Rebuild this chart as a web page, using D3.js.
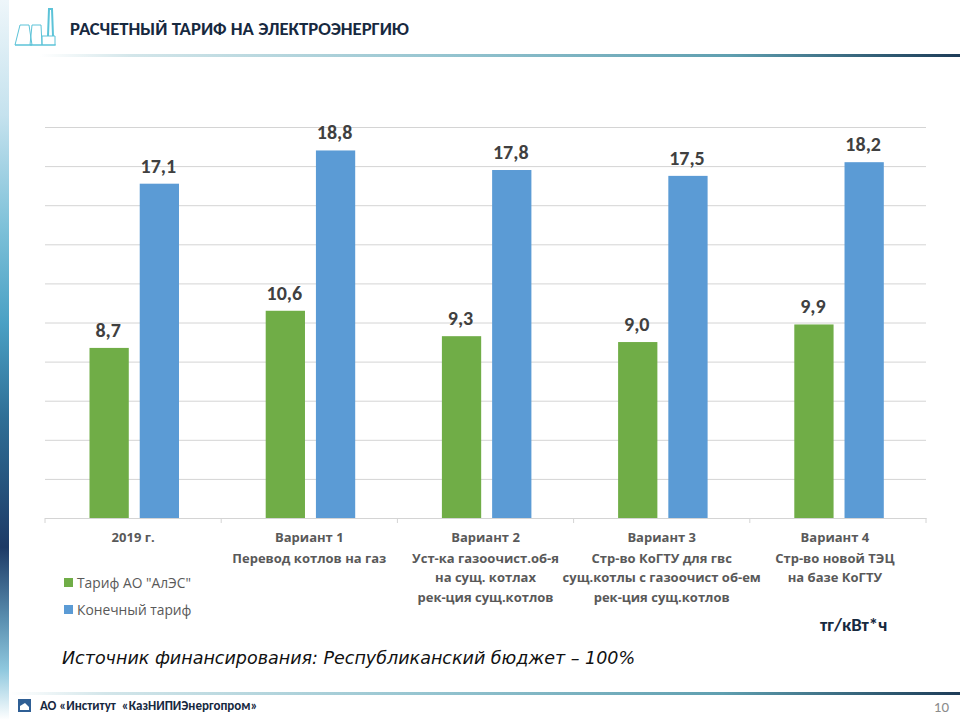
<!DOCTYPE html>
<html><head><meta charset="utf-8"><style>html,body{margin:0;padding:0;background:#fff}svg{display:block}</style>
<script src="https://cdnjs.cloudflare.com/ajax/libs/d3/7.8.5/d3.min.js"></script></head><body>
<svg id="c" width="960" height="720"></svg>
<script>
const categories=["2019 г.","Вариант 1","Вариант 2","Вариант 3","Вариант 4"];
const categoryNotes=[[],["Перевод котлов на газ"],["Уст-ка газоочист.об-я","на сущ. котлах","рек-ция сущ.котлов"],["Стр-во КоГТУ для гвс","сущ.котлы с газоочист об-ем","рек-ция сущ.котлов"],["Стр-во новой ТЭЦ","на базе КоГТУ"]];
const seriesNames=['Тариф АО "АлЭС"',"Конечный тариф"];
const tariff=[8.7,10.6,9.3,9.0,9.9];
const finalTariff=[17.1,18.8,17.8,17.5,18.2];
const valueTicks=[0,2,4,6,8,10,12,14,16,18,20];
const colors=["#70ad47","#5b9bd5"];
const fmt=v=>v.toFixed(1).replace(".",",");
const font="Carlito, 'Open Sans', 'Noto Sans', sans-serif";
const labelFont="'Open Sans','Noto Sans',sans-serif";
const svg=d3.select("#c");
const defs=svg.append("defs");
function grad(id,stops,vertical){const g=defs.append("linearGradient").attr("id",id).attr("x1",0).attr("y1",0).attr("x2",vertical?0:1).attr("y2",vertical?1:0);
 stops.forEach(s=>g.append("stop").attr("offset",s[0]).attr("stop-color",s[1]));}
grad("side",[[0,"#eef6fa"],[0.16,"#c5e2ee"],[0.32,"#7cc0d8"],[0.45,"#4aa0c4"],[0.58,"#2f6f96"],[0.76,"#1d3a66"],[0.86,"#5a8fb0"],[0.93,"#8fc8de"],[1,"#ffffff"]],true);
grad("rule",[[0,"#ffffff"],[0.1,"#d3e6ea"],[0.45,"#93c3cf"],[0.75,"#5f9fb0"],[0.92,"#2f5a72"],[1,"#1e3c58"]],false);
svg.append("rect").attr("x",0).attr("y",0).attr("width",9).attr("height",720).attr("fill","url(#side)");
svg.append("rect").attr("x",40).attr("y",54).attr("width",920).attr("height",3).attr("fill","url(#rule)");
svg.append("rect").attr("x",10).attr("y",692).attr("width",950).attr("height",3).attr("fill","url(#rule)");
// icon
const ic=svg.append("g").attr("fill","none").attr("stroke","#5cc3d8").attr("stroke-width",1);
ic.append("path").attr("d","M15 45 L20 25 H29 L32 45 Z M30 45 L32 25 H41 L42 45 Z M42 45 V36 H55 V45 Z M15 45 H56");
ic.append("path").attr("d","M48 36 L49 9 H52 L53 36").attr("stroke-width",2);
// plot
const x=d3.scaleBand().domain(categories).range([45,926]);
const y=d3.scaleLinear().domain([0,20]).range([518,127]);
const x1=d3.scaleBand().domain(seriesNames).range([44.5,134]).paddingInner(0.218);
const g=svg.append("g");
g.append("g").attr("transform","translate(45,0)").call(d3.axisLeft(y).tickValues(valueTicks).tickSize(-881).tickFormat(""))
 .call(a=>a.select(".domain").remove()).call(a=>a.selectAll("line").attr("stroke","#d4d4d4"));
const ax=g.append("g").attr("transform","translate(0,518)").call(d3.axisBottom(x).tickFormat("").tickSize(0));
ax.select(".domain").attr("stroke","#d4d4d4");
ax.selectAll(".tick").remove();
const edges=categories.map(c=>x(c)).concat(x.range()[1]);
g.selectAll(".et").data(edges).join("line").attr("x1",d=>d).attr("x2",d=>d).attr("y1",518).attr("y2",523).attr("stroke","#d4d4d4");
[tariff,finalTariff].forEach((vals,i)=>{
 const s=g.append("g");
 s.selectAll("rect").data(vals).join("rect").attr("x",(d,j)=>x(categories[j])+x1(seriesNames[i])).attr("width",x1.bandwidth()).attr("y",d=>y(d)).attr("height",d=>y(0)-y(d)).attr("fill",colors[i]);
 s.selectAll("text").data(vals).join("text").attr("x",(d,j)=>x(categories[j])+x1(seriesNames[i])+x1.bandwidth()/2-1).attr("y",d=>y(d)-11).attr("text-anchor","middle").attr("font-family",font).attr("font-weight",700).attr("font-size",20).attr("fill","#404040").text(fmt);
});
// category labels
categories.forEach((c,i)=>{
 const cx=x(c)+x.bandwidth()/2-(i===4?3:0);
 const t=g.append("g").attr("text-anchor","middle").attr("font-family",labelFont).attr("font-weight",700).attr("font-size",13).attr("fill","#595959");
 [c].concat(categoryNotes[i]).forEach((l,k)=>t.append("text").attr("x",cx).attr("y",[542,563,582,602][k]).text(l));
});
// legend
seriesNames.forEach((n,i)=>{
 const ly=[583,610][i];
 svg.append("rect").attr("x",64).attr("y",ly-5).attr("width",9).attr("height",9).attr("fill",colors[i]);
 svg.append("text").attr("x",77).attr("y",ly+5).attr("font-family",labelFont).attr("font-size",13.8).attr("fill","#595959").text(n);
});
svg.append("text").attr("x",70).attr("y",35).attr("font-family",font).attr("font-weight",700).attr("font-size",18.7).attr("fill","#17293f").text("РАСЧЕТНЫЙ ТАРИФ НА ЭЛЕКТРОЭНЕРГИЮ");
svg.append("text").attr("x",820).attr("y",631).attr("font-family",font).attr("font-weight",700).attr("font-size",18.7).attr("fill","#17293f").text("тг/кВт*ч");
svg.append("text").attr("x",62).attr("y",664).attr("font-family","'DejaVu Sans',sans-serif").attr("font-style","italic").attr("font-size",17.5).attr("fill","#111").text("Источник финансирования: Республиканский бюджет – 100%");
svg.append("path").attr("d","M18 699 H31 V712 H18 Z").attr("fill","#2f5f95");
svg.append("path").attr("d","M20 710 V706 L25 703 L29 707 V710 Z").attr("fill","#ffffff");
svg.append("text").attr("x",40).attr("y",710).attr("font-family",font).attr("font-weight",700).attr("font-size",13).attr("fill","#17293f").text("АО «Институт\u00a0\u00a0«КазНИПИЭнергопром»");
svg.append("text").attr("x",949).attr("y",712).attr("text-anchor","end").attr("font-family",font).attr("font-size",15).attr("fill","#8c8c8c").text("10");
</script></body></html>
